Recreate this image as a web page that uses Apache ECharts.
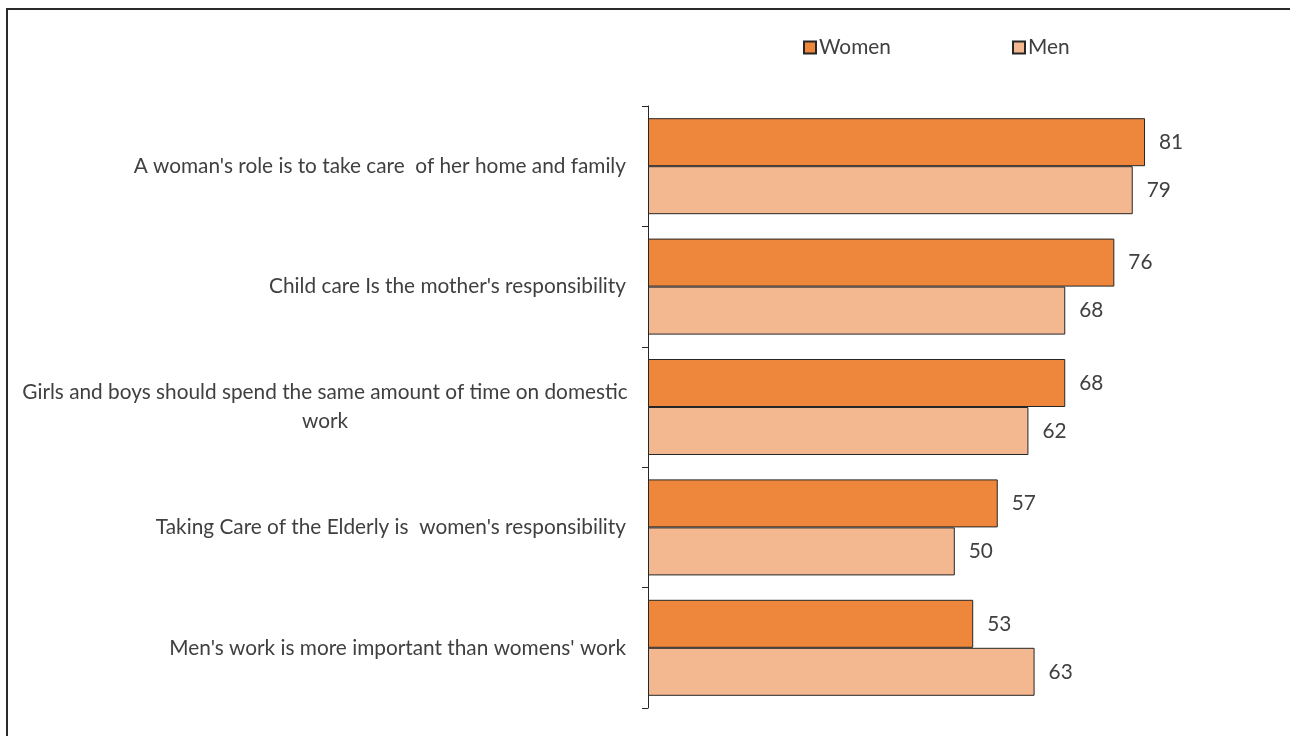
<!DOCTYPE html>
<html>
<head>
<meta charset="utf-8">
<script src="https://cdn.jsdelivr.net/npm/echarts@6/dist/echarts.min.js"></script>
<style>
  html, body { margin: 0; padding: 0; background: #fff; }
  #chart { width: 1290px; height: 736px; }
</style>
</head>
<body>
<div id="chart"></div>
<script>
// Attitudes towards gender roles, % agreeing
const categories = [
  "A woman's role is to take care  of her home and family",
  "Child care Is the mother's responsibility",
  "Girls and boys should spend the same amount of time on domestic\nwork",
  "Taking Care of the Elderly is  women's responsibility",
  "Men's work is more important than womens' work"
];
const women = [81, 76, 68, 57, 53];
const men = [79, 68, 62, 50, 63];

const FONT = 'Lato';
const FS = 20.8;
const TEXT = '#404040';
const WOMEN_COLOR = '#EE873B';
const MEN_COLOR = '#F4B890';
const EDGE = '#262626';

const chart = echarts.init(document.getElementById('chart'));

const labelStyle = {
  show: true,
  position: 'right',
  distance: 14,
  color: TEXT,
  fontFamily: FONT,
  fontSize: FS
};

const legendBase = {
  top: 32,
  icon: 'rect',
  itemWidth: 12, itemHeight: 12, itemGap: 4,
  textStyle: { color: TEXT, fontFamily: FONT, fontSize: FS, padding: [0, 0, 0, -2] }
};

chart.setOption({
  animation: false,
  graphic: [{
    type: 'rect',
    shape: { x: 7, y: 9, width: 1400, height: 900 },
    style: { fill: 'none', stroke: '#2a2a2a', lineWidth: 2 },
    silent: true
  }],
  legend: [
    Object.assign({ data: ['Women'], left: 798 }, legendBase),
    Object.assign({ data: ['Men'], left: 1007 }, legendBase)
  ],
  grid: { left: 648, top: 106, width: 613.6, height: 602, containLabel: false },
  xAxis: {
    type: 'value', min: 0, max: 100,
    show: false, splitLine: { show: false }
  },
  yAxis: {
    type: 'category',
    inverse: true,
    data: categories,
    axisLine: { show: true, lineStyle: { color: EDGE, width: 1 } },
    axisTick: { show: true, length: 6, lineStyle: { color: EDGE, width: 1 } },
    axisLabel: {
      margin: 22,
      color: TEXT,
      fontFamily: FONT,
      fontSize: FS,
      lineHeight: 29,
      formatter: function (v) {
        if (v.indexOf('\n') >= 0) {
          return v.split('\n').map(function (s) { return '{c|' + s + '}'; }).join('\n');
        }
        return v;
      },
      rich: {
        c: { width: 602, align: 'center', color: TEXT, fontFamily: FONT, fontSize: FS, lineHeight: 29 }
      }
    }
  },
  series: [
    {
      name: 'Women', type: 'bar', data: women,
      barWidth: 48, barGap: '0%', barCategoryGap: '20%',
      itemStyle: { color: WOMEN_COLOR, borderColor: EDGE, borderWidth: 1 },
      label: labelStyle
    },
    {
      name: 'Men', type: 'bar', data: men,
      barWidth: 48, barGap: '0%',
      itemStyle: { color: MEN_COLOR, borderColor: EDGE, borderWidth: 1 },
      label: labelStyle
    }
  ]
});
</script>
</body>
</html>
